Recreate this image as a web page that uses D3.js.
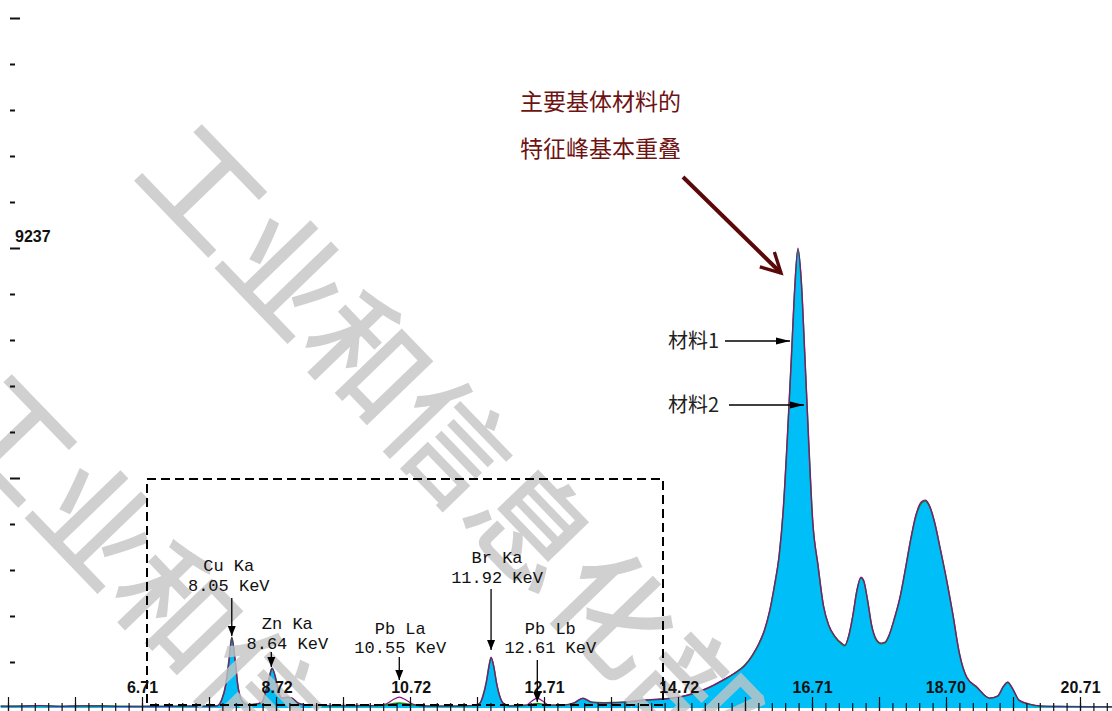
<!DOCTYPE html>
<html>
<head>
<meta charset="utf-8">
<script src="https://cdn.jsdelivr.net/npm/d3@7"></script>
<style>
  html, body { margin: 0; padding: 0; background: #fff; }
  svg { display: block; }
</style>
</head>
<body>
<div class="spectrum"></div>
<script>
// energy axis of the spectrum, keV
const energy = [
  4.60, 4.90, 5.20, 5.50, 5.80, 6.10, 6.40, 6.70, 7.00, 7.30, 7.60, 7.83,
  7.90, 7.96, 8.01, 8.05, 8.10, 8.14, 8.20, 8.28, 8.40,
  8.50, 8.56, 8.61, 8.65, 8.70, 8.74, 8.80, 8.87, 8.95, 9.04, 9.14, 9.40, 9.80, 10.20,
  10.35, 10.45, 10.55, 10.65, 10.75, 10.90, 11.20, 11.50, 11.70, 11.76,
  11.80, 11.85, 11.89, 11.92, 11.96, 12.00, 12.05, 12.10, 12.20,
  12.45, 12.53, 12.61, 12.69, 12.78, 13.00,
  13.15, 13.29, 13.42, 13.60, 13.90, 14.20, 14.50, 14.72, 14.95, 15.15, 15.35, 15.55,
  15.70, 15.82, 15.92, 16.00, 16.08, 16.15, 16.22, 16.28, 16.34, 16.40, 16.45, 16.50,
  16.55, 16.60, 16.66, 16.72, 16.80, 16.88, 16.96, 17.05, 17.15, 17.20, 17.26, 17.32,
  17.38, 17.44, 17.48, 17.54, 17.60, 17.66, 17.74, 17.80, 17.86, 17.94, 18.02, 18.10,
  18.18, 18.26, 18.34, 18.40, 18.46, 18.54, 18.62, 18.72, 18.81, 18.91, 19.02, 19.17,
  19.36, 19.48, 19.57, 19.63, 19.70, 19.80, 19.95, 20.15, 20.50, 21.00, 21.30
]
// 材料1 (purple trace)
const counts1 = [
  40, 35, 50, 30, 45, 40, 30, 35, 30, 40, 35, 40,
  160, 460, 960, 1406, 960, 460, 160, 60, 80,
  120, 360, 620, 803, 620, 360, 200, 220, 200, 100, 60, 50, 45, 50,
  80, 160, 220, 160, 80, 40, 40, 45, 60, 110,
  240, 520, 840, 1024, 840, 520, 240, 100, 40,
  60, 140, 200, 140, 60, 60,
  100, 200, 120, 100, 120, 160, 180, 220, 300, 400, 540, 700,
  840, 1064, 1305, 1566, 1968, 2470, 3072, 3976, 5381, 6988, 8393, 9237,
  8594, 7189, 5381, 3775, 2871, 2068, 1667, 1446, 1305, 1265, 1466, 1867,
  2369, 2630, 2570, 2169, 1667, 1406, 1305, 1325, 1466, 1807, 2209, 2771,
  3373, 3875, 4136, 4177, 4076, 3735, 3233, 2570, 1908, 1104, 622, 422,
  200, 240, 442, 522, 400, 160, 80, 40, 30, 25, 25
]
// 材料2 (green trace, filled)
const counts2 = [
  35, 40, 45, 35, 40, 45, 35, 30, 35, 35, 40, 45,
  170, 470, 980, 1420, 950, 450, 150, 70, 75,
  110, 350, 610, 795, 630, 370, 190, 210, 190, 95, 65, 45, 50, 45,
  60, 85, 100, 85, 60, 45, 35, 40, 55, 105,
  250, 530, 850, 1010, 830, 510, 230, 95, 45,
  55, 75, 90, 75, 55, 60,
  95, 190, 115, 105, 115, 155, 185, 215, 290, 395, 530, 690,
  850, 1050, 1290, 1550, 1950, 2450, 3050, 3950, 5350, 6950, 8360, 9210,
  8560, 7150, 5350, 3750, 2850, 2050, 1650, 1430, 1290, 1250, 1450, 1850,
  2350, 2610, 2550, 2150, 1650, 1390, 1290, 1310, 1450, 1790, 2190, 2750,
  3350, 3850, 4110, 4160, 4060, 3720, 3220, 2560, 1890, 1090, 610, 415,
  195, 235, 435, 515, 395, 155, 75, 35, 30, 25, 25
]

const xTickValues = [6.71, 8.72, 10.72, 12.71, 14.72, 16.71, 18.70, 20.71]
const xTickLabels = ['6.71', '8.72', '10.72', '12.71', '14.72', '16.71', '18.70', '20.71']
const yLabelValue = 9237
const yLabelText = '9237'

const peakNames = ['Cu Ka', 'Zn Ka', 'Pb La', 'Br Ka', 'Pb Lb']
const peakEnergies = [8.05, 8.64, 10.55, 11.92, 12.61]
const peakKeV = ['8.05 KeV', '8.64 KeV', '10.55 KeV', '11.92 KeV', '12.61 KeV']

const noteLines = ['主要基体材料的', '特征峰基本重叠']
const seriesNames = ['材料1', '材料2']
const watermarkText = '工业和信息化部'

const width = 1112
const height = 711

const svg = d3.select('.spectrum')
  .append('svg')
  .attr('width', width)
  .attr('height', height)
  .style('background-color', '#fff')

const xScale = d3.scaleLinear().domain([6.71, 20.71]).range([142, 1080])
const yScale = d3.scaleLinear().domain([0, 9237]).range([708, 248])

const pts1 = energy.map((e, i) => [e, counts1[i]])
const pts2 = energy.map((e, i) => [e, counts2[i]])

const area = d3.area()
  .x(d => xScale(d[0]))
  .y0(yScale(0))
  .y1(d => yScale(d[1]))
  .curve(d3.curveMonotoneX)

const line = d3.line()
  .x(d => xScale(d[0]))
  .y(d => yScale(d[1]))
  .curve(d3.curveMonotoneX)

// filled spectrum + both traces
svg.append('path').attr('d', area(pts2)).attr('fill', '#00bff8')
svg.append('path').attr('d', line(pts2)).attr('fill', 'none')
  .attr('stroke', '#118a11').attr('stroke-width', 1.6)
svg.append('path').attr('d', line(pts1)).attr('fill', 'none')
  .attr('stroke', '#8a108a').attr('stroke-width', 1.2)

// watermark
const wm = svg.append('g').attr('fill', '#c4c4c4').attr('fill-opacity', 0.8)
  .style('font-family', '"Noto Sans CJK SC", sans-serif')
  .style('font-size', '118px')
  .style('font-weight', 500)
wm.append('text')
  .attr('transform', 'translate(168,140) rotate(46)')
  .attr('dominant-baseline', 'central')
  .text(watermarkText)
wm.append('text')
  .attr('transform', 'translate(-22,390) rotate(46)')
  .attr('dominant-baseline', 'central')
  .text(watermarkText)

// dashed frame around the small peaks
svg.append('rect')
  .attr('x', 147).attr('y', 479)
  .attr('width', 516).attr('height', 226)
  .attr('fill', 'none')
  .attr('stroke', '#000')
  .attr('stroke-width', 2)
  .attr('stroke-dasharray', '9,5')

// x axis: minor ticks every 0.2 keV, long ones every 1 keV
const minorTicks = d3.range(-10, 73).map(k => 6.71 + k * 0.2)
const longTicks = d3.range(-2, 15).map(k => 6.71 + k)

const xMinor = svg.append('g').attr('transform', `translate(0, ${height})`)
  .call(d3.axisTop(xScale).tickValues(minorTicks).tickSize(8).tickFormat(''))
const xLong = svg.append('g').attr('transform', `translate(0, ${height})`)
  .call(d3.axisTop(xScale).tickValues(longTicks).tickSize(14).tickFormat(''))
const xLabels = svg.append('g').attr('transform', `translate(0, ${height})`)
  .call(d3.axisTop(xScale).tickValues(xTickValues).tickSize(0).tickPadding(18)
    .tickFormat((d, i) => xTickLabels[i]))
;[xMinor, xLong, xLabels].forEach(g => {
  g.select('.domain').remove()
  g.selectAll('line').attr('stroke', '#111').attr('stroke-width', 1.2)
})
xLabels.selectAll('text')
  .attr('fill', '#111')
  .style('font-family', '"Liberation Sans", Arial, sans-serif')
  .style('font-size', '16px')
  .style('font-weight', 'bold')

// y axis ticks
const yTicks = d3.range(1, 16).map(k => k * 923.7)
const yShort = svg.append('g').attr('transform', 'translate(10, 0)')
  .call(d3.axisRight(yScale).tickValues(yTicks.filter((d, i) => (i + 1) % 5 !== 0)).tickSize(5).tickFormat(''))
const yLong = svg.append('g').attr('transform', 'translate(10, 0)')
  .call(d3.axisRight(yScale).tickValues(yTicks.filter((d, i) => (i + 1) % 5 === 0)).tickSize(10).tickFormat(''))
;[yShort, yLong].forEach(g => {
  g.select('.domain').remove()
  g.selectAll('line').attr('stroke', '#111').attr('stroke-width', 2)
})
svg.append('text')
  .attr('x', 15)
  .attr('y', yScale(yLabelValue) - 6)
  .attr('fill', '#111')
  .style('font-family', '"Liberation Sans", Arial, sans-serif')
  .style('font-size', '16px')
  .style('font-weight', 'bold')
  .text(yLabelText)

// arrow markers
const defs = svg.append('defs')
defs.append('marker')
  .attr('id', 'headBlack')
  .attr('viewBox', '0 0 10 10')
  .attr('refX', 10).attr('refY', 5)
  .attr('markerWidth', 10).attr('markerHeight', 10)
  .attr('markerUnits', 'userSpaceOnUse')
  .attr('orient', 'auto')
  .append('path').attr('d', 'M0,1 L10,5 L0,9 Z').attr('fill', '#000')
defs.append('marker')
  .attr('id', 'headSide')
  .attr('viewBox', '0 0 14 10')
  .attr('refX', 14).attr('refY', 5)
  .attr('markerWidth', 14).attr('markerHeight', 10)
  .attr('markerUnits', 'userSpaceOnUse')
  .attr('orient', 'auto')
  .append('path').attr('d', 'M0,1.5 L14,5 L0,8.5 Z').attr('fill', '#000')
defs.append('marker')
  .attr('id', 'headRed')
  .attr('viewBox', '0 0 10 10')
  .attr('refX', 8.5).attr('refY', 5)
  .attr('markerWidth', 6).attr('markerHeight', 6)
  .attr('orient', 'auto')
  .append('path').attr('d', 'M1,1 L8.5,5 L1,9')
  .attr('fill', 'none').attr('stroke', '#5a0808').attr('stroke-width', 1.4)
  .attr('stroke-linecap', 'square')

// peak labels: text offsets and arrow ends per peak
const peakLayout = [
  { dx: -3, y1: 571, y2: 591, a0: 598, a1: 636 },
  { dx: 16, y1: 629, y2: 649, a0: 652, a1: 667 },
  { dx: 1, y1: 634, y2: 653, a0: 657, a1: 680 },
  { dx: 6, y1: 563, y2: 583, a0: 589, a1: 650 },
  { dx: 13, y1: 634, y2: 653, a0: 660, a1: 702 }
]
const labels = svg.append('g')
  .style('font-family', '"Liberation Mono", "DejaVu Sans Mono", monospace')
  .style('font-size', '17px')
  .attr('fill', '#111')
  .attr('text-anchor', 'middle')
peakNames.forEach((name, i) => {
  const px = xScale(peakEnergies[i])
  const lay = peakLayout[i]
  labels.append('text').attr('x', px + lay.dx).attr('y', lay.y1).text(name)
  labels.append('text').attr('x', px + lay.dx).attr('y', lay.y2).text(peakKeV[i])
  svg.append('line')
    .attr('x1', px).attr('x2', px)
    .attr('y1', lay.a0).attr('y2', lay.a1)
    .attr('stroke', '#000').attr('stroke-width', 1.3)
    .attr('marker-end', 'url(#headBlack)')
})

// note about the main peak
const note = svg.append('g')
  .attr('fill', '#6e1212')
  .style('font-family', '"Noto Sans CJK SC", sans-serif')
  .style('font-size', '23px')
noteLines.forEach((t, i) => {
  note.append('text').attr('x', 520).attr('y', 110 + i * 47).text(t)
})
svg.append('line')
  .attr('x1', 683).attr('y1', 177)
  .attr('x2', 781).attr('y2', 273)
  .attr('stroke', '#5a0808').attr('stroke-width', 4)
  .attr('marker-end', 'url(#headRed)')

// series pointers
const sideLayout = [
  { y: 341, x0: 725, x1: 790 },
  { y: 405, x0: 729, x1: 804 }
]
seriesNames.forEach((name, i) => {
  const lay = sideLayout[i]
  svg.append('text')
    .attr('x', 668).attr('y', lay.y + 7)
    .attr('fill', '#222')
    .style('font-family', '"Noto Sans CJK SC", sans-serif')
    .style('font-size', '20px')
    .text(name)
  svg.append('line')
    .attr('x1', lay.x0).attr('x2', lay.x1)
    .attr('y1', lay.y).attr('y2', lay.y)
    .attr('stroke', '#000').attr('stroke-width', 1.3)
    .attr('marker-end', 'url(#headSide)')
})
</script>
</body>
</html>
